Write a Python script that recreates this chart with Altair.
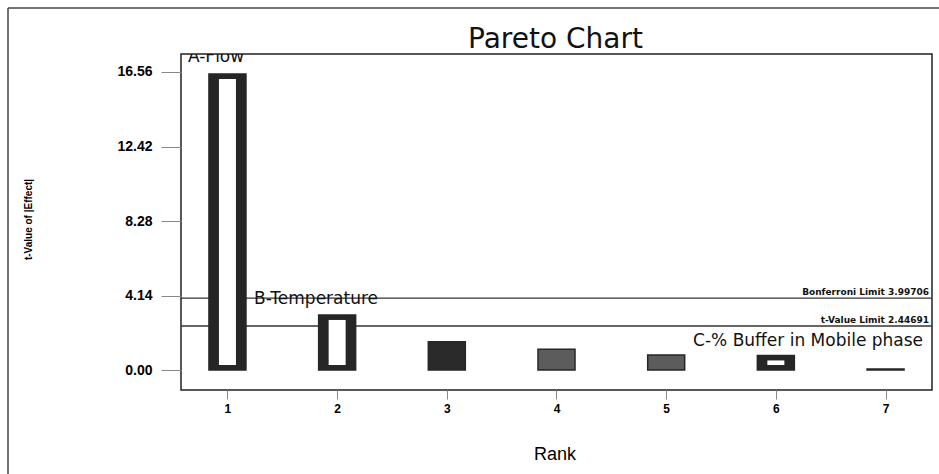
import altair as alt
import pandas as pd

# Ranked effects: absolute t-value of each factor effect
ranks = [1, 2, 3, 4, 5, 6, 7]
t_values = [16.45, 3.06, 1.57, 1.15, 0.83, 0.81, 0.05]
bar_kinds = ["hollow", "hollow", "dark", "gray", "gray", "hollow", "dark"]

# Significance limits
limit_names = ["Bonferroni Limit", "t-Value Limit"]
limit_values = [3.99706, 2.44691]

# Named effects
effect_names = ["A-Flow", "B-Temperature", "C-% Buffer in Mobile phase"]

# Axis ticks
y_ticks = [0.00, 4.14, 8.28, 12.42, 16.56]
x_ticks = ranks

chart_title = "Pareto Chart"

W, H = 751, 336
FONT = "DejaVu Sans"
INK = "#262626"

bars = pd.DataFrame({"rank": ranks, "t": t_values, "kind": bar_kinds})
hollow = bars[bars["kind"] == "hollow"]
limits = pd.DataFrame({"name": limit_names, "t": limit_values})
limits["label"] = limits["name"] + " " + limits["t"].map(lambda v: f"{v:.5f}")

x_scale = alt.Scale(domain=[0.622, 7.378], nice=False, zero=False)
y_scale = alt.Scale(domain=[-1.11, 17.56], nice=False, zero=False)

x_axis = alt.Axis(
    values=x_ticks, format="d", title="Rank", grid=False, domain=False,
    tickSize=9, labelPadding=4, labelFontSize=12, labelFontWeight="bold",
    titleFontSize=18, titleFontWeight="normal", titleX=W / 2 - 2, titleY=69,
    titleBaseline="alphabetic", titleAlign="center",
)
y_axis = alt.Axis(
    values=y_ticks, format=".2f", title="t-Value of |Effect|", grid=False,
    domain=False, tickSize=20, labelPadding=9, labelFontSize=14,
    labelFontWeight="bold", titleFontSize=10, titleFontWeight="bold",
    titleX=-153, titleY=H / 2 - 3, titleAngle=-90, titleAlign="center",
    titleBaseline="middle",
)

X = alt.X("rank:Q", scale=x_scale, axis=x_axis)
Y = alt.Y("t:Q", scale=y_scale, axis=y_axis)

one_row = pd.DataFrame({"f": [0]})

# Outer page frame (top and left edges)
frame_top = alt.Chart(one_row).mark_rule(
    color="#444", strokeWidth=1.5
).encode(x=alt.value(-173), x2=alt.value(W + 40), y=alt.value(-46))
frame_left = alt.Chart(one_row).mark_rule(
    color="#444", strokeWidth=1.5
).encode(x=alt.value(-173), y=alt.value(-46), y2=alt.value(H + 120))

# Chart heading, centred over the plot
heading = alt.Chart(pd.DataFrame({"title": [chart_title]})).mark_text(
    align="center", baseline="alphabetic", font=FONT, fontSize=28, color="#111"
).encode(x=alt.value(W / 2 - 1), y=alt.value(-6), text="title:N")

# Limit lines with their labels
limit_rules = alt.Chart(limits).mark_rule(color="#333", strokeWidth=1.3).encode(y=Y)
limit_text = alt.Chart(limits).mark_text(
    align="right", baseline="alphabetic", dx=-3, dy=-3,
    font=FONT, fontSize=9, fontWeight="bold", color="#111",
).encode(x=alt.value(W), y=Y, text="label:N")

# Bars: dark body, with a white core for the hollow ones
outer_bars = alt.Chart(bars).mark_bar(size=37, stroke=INK, strokeWidth=1.5).encode(
    x=X, y=Y, y2=alt.datum(0),
    fill=alt.Fill("kind:N", scale=alt.Scale(domain=["hollow", "dark", "gray"],
                                             range=[INK, "#2a2a2a", "#5c5c5c"]),
                  legend=None),
)
inner_bars = alt.Chart(hollow).mark_bar(
    size=17, color="white", yOffset=5, y2Offset=-5
).encode(x=X, y=Y, y2=alt.datum(0))

# Effect name labels
label_style = dict(font=FONT, fontSize=17, color="#111", baseline="alphabetic")
lab_a = alt.Chart(pd.DataFrame({"name": [effect_names[0]]})).mark_text(
    align="left", clip=True, **label_style
).encode(x=alt.datum(0.64), y=alt.datum(17.12), text="name:N")
lab_b = alt.Chart(pd.DataFrame({"name": [effect_names[1]]})).mark_text(
    align="left", **label_style
).encode(x=alt.datum(1.243), y=alt.datum(3.67), text="name:N")
lab_c = alt.Chart(pd.DataFrame({"name": [effect_names[2]]})).mark_text(
    align="right", **label_style
).encode(x=alt.datum(7.342), y=alt.datum(1.33), text="name:N")

chart = alt.layer(
    frame_top, frame_left, heading, limit_rules, limit_text, lab_b, lab_c,
    outer_bars, inner_bars, lab_a,
).properties(
    width=W, height=H,
    autosize=alt.AutoSizeParams(type="none"),
    padding={"left": 181, "top": 54, "right": 7, "bottom": 84},
    view=alt.ViewBackground(stroke="#222", strokeWidth=1.5, fill="white"),
).configure_axis(
    labelFont=FONT, titleFont=FONT, labelColor="#111", titleColor="#111",
    tickColor="#333", tickWidth=1.5,
).configure(background="white")

chart.save("out.html", embed_options={"renderer": "svg", "actions": False})
